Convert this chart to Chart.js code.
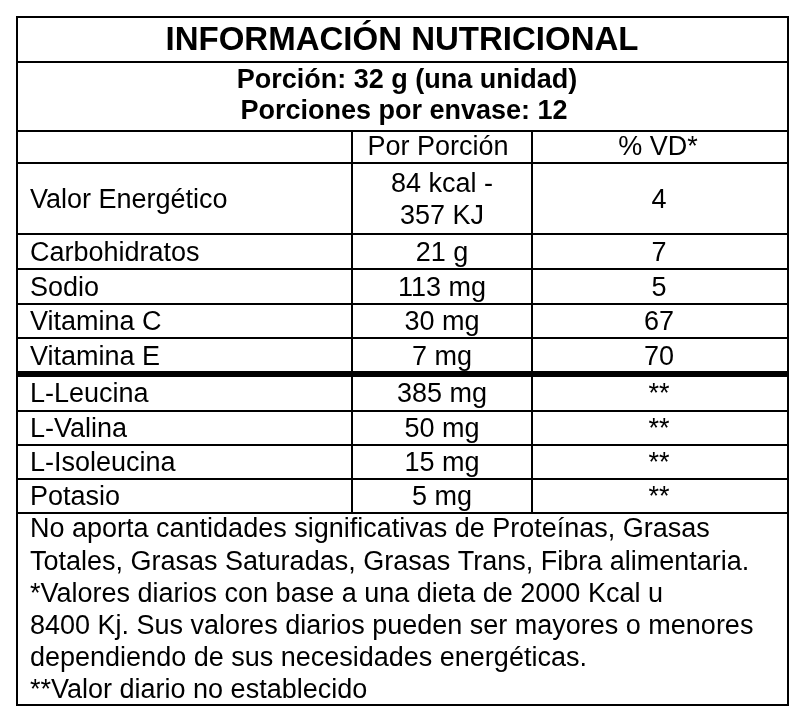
<!DOCTYPE html>
<html><head><meta charset="utf-8">
<script src="https://cdn.jsdelivr.net/npm/chart.js@4"></script>
<style>html,body{margin:0;padding:0;background:#fff}#w{width:805px;height:721px}</style>
</head><body><div id="w"><canvas id="c"></canvas></div>
<script>
const title = "INFORMACIÓN NUTRICIONAL";
const subtitles = ["Porción: 32 g (una unidad)", "Porciones por envase: 12"];
const headers = ["", "Por Porción", "% VD*"];
const nutrients = ["Valor Energético", "Carbohidratos", "Sodio", "Vitamina C", "Vitamina E", "L-Leucina", "L-Valina", "L-Isoleucina", "Potasio"];
const perServing = [["84 kcal -", "357 KJ"], ["21 g"], ["113 mg"], ["30 mg"], ["7 mg"], ["385 mg"], ["50 mg"], ["15 mg"], ["5 mg"]];
const dailyValue = ["4", "7", "5", "67", "70", "**", "**", "**", "**"];
const footer = ["No aporta cantidades significativas de Proteínas, Grasas", "Totales, Grasas Saturadas, Grasas Trans, Fibra alimentaria.", "*Valores diarios con base a una dieta de 2000 Kcal u", "8400 Kj. Sus valores diarios pueden ser mayores o menores", "dependiendo de sus necesidades energéticas.", "**Valor diario no establecido"];

const rowEdges = [131,163,234,269,304,338,374,411,445,479,513];
const F = '"Liberation Sans", Arial, sans-serif';

const tablePlugin = {
  id: 'table',
  afterDraw(chart) {
    const ctx = chart.ctx, xs = chart.scales.x, ys = chart.scales.y;
    const X = v => xs.getPixelForValue(v), Y = v => ys.getPixelForValue(v);
    ctx.save();
    ctx.fillStyle = '#000'; ctx.strokeStyle = '#000';
    const hl = (y, x0, x1, w) => { ctx.lineWidth = w || 2; ctx.beginPath(); ctx.moveTo(X(x0), Y(y)); ctx.lineTo(X(x1), Y(y)); ctx.stroke(); };
    const vl = (x, y0, y1) => { ctx.lineWidth = 2; ctx.beginPath(); ctx.moveTo(X(x), Y(y0)); ctx.lineTo(X(x), Y(y1)); ctx.stroke(); };
    ctx.lineWidth = 2; ctx.strokeRect(X(17), Y(17), X(788) - X(17), Y(705) - Y(17));
    hl(62, 17, 788);
    rowEdges.forEach(y => hl(y, 17, 788, y === 374 ? 6 : 2));
    vl(352, 131, 513); vl(532, 131, 513);
    ctx.textBaseline = 'middle';
    ctx.textAlign = 'center';
    ctx.font = 'bold 33px ' + F; ctx.fillText(title, X(402), Y(41));
    ctx.font = 'bold 27px ' + F;
    ctx.fillText(subtitles[0], X(407), Y(81)); ctx.fillText(subtitles[1], X(404), Y(112));
    ctx.font = '27px ' + F;
    ctx.fillText(headers[1], X(438), Y(148)); ctx.fillText(headers[2], X(658), Y(148));
    nutrients.forEach((n, i) => {
      const top = rowEdges[i + 1], bot = rowEdges[i + 2];
      const cy = (top + bot) / 2 + 2;
      ctx.textAlign = 'left'; ctx.fillText(n, X(30), Y(cy));
      ctx.textAlign = 'center';
      const ps = perServing[i];
      if (ps.length === 2) { ctx.fillText(ps[0], X(442), Y(cy - 16)); ctx.fillText(ps[1], X(442), Y(cy + 16)); }
      else ctx.fillText(ps[0], X(442), Y(cy));
      ctx.fillText(dailyValue[i], X(659), Y(cy));
    });
    ctx.textAlign = 'left';
    footer.forEach((t, i) => ctx.fillText(t, X(30), Y(530 + i * 32.2)));
    ctx.restore();
  }
};

new Chart(document.getElementById('c'), {
  type: 'scatter',
  data: { datasets: [{ data: [] }] },
  options: {
    responsive: true, maintainAspectRatio: false, animation: false,
    layout: { padding: 0 },
    plugins: { legend: { display: false }, tooltip: { enabled: false } },
    scales: {
      x: { type: 'linear', min: 0, max: 805, display: false },
      y: { type: 'linear', min: 0, max: 721, reverse: true, display: false }
    }
  },
  plugins: [tablePlugin]
});
</script></body></html>
